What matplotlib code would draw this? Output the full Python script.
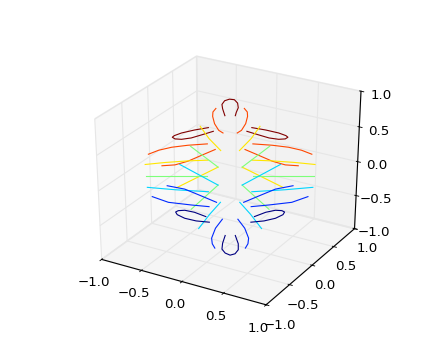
import numpy as np
import matplotlib
matplotlib.use("Agg")
from matplotlib import pyplot as plt
from mpl_toolkits.mplot3d import Axes3D  # noqa: F401

# contour curves, coordinates in the plane facing the camera (through the origin)
# curves that exist once, on the centre line
top_loop_u = [-0.055, -0.079, -0.086, -0.058, -0.007, 0.045, 0.079, 0.086, 0.065, 0.055]
top_loop_v = [0.754, 0.840, 0.894, 0.940, 0.960, 0.953, 0.911, 0.853, 0.795, 0.754]
bottom_loop_u = [-0.052, -0.079, -0.086, -0.052, 0.0, 0.052, 0.086, 0.086, 0.055]
bottom_loop_v = [-0.741, -0.837, -0.911, -0.960, -0.986, -0.969, -0.919, -0.844, -0.741]

# curves of the left half, the right half mirrors them
red_wing_u = [-0.229, -0.376, -0.512, -0.588, -0.609, -0.581, -0.512, -0.410, -0.290, -0.177]
red_wing_v = [0.605, 0.575, 0.538, 0.505, 0.485, 0.464, 0.459, 0.476, 0.518, 0.559]
orange_arc_u = [-0.150, -0.181, -0.184, -0.164, -0.120, -0.075]
orange_arc_v = [0.844, 0.800, 0.745, 0.654, 0.571, 0.538]
orange_long_u = [-0.861, -0.752, -0.616, -0.444, -0.240]
orange_long_v = [0.273, 0.323, 0.360, 0.385, 0.402]
orange_low_u = [-0.718, -0.581, -0.444, -0.290, -0.157]
orange_low_v = [0.129, 0.140, 0.186, 0.265, 0.332]
yellow_diag_u = [-0.315, -0.222, -0.099]
yellow_diag_v = [0.621, 0.468, 0.319]
yellow_long_u = [-0.895, -0.684, -0.444, -0.233]
yellow_long_v = [0.145, 0.170, 0.190, 0.199]
yellow_chev_u = [-0.127, -0.564]
yellow_chev_v = [0.112, -0.145]
green_up_u = [-0.417, -0.127]
green_up_v = [0.372, 0.112]
green_down_u = [-0.127, -0.410]
green_down_v = [-0.112, -0.414]
green_flat_u = [-0.888, -0.240]
green_flat_v = [0.0, 0.0]
cyan_chev_u = [-0.530, -0.127]
cyan_chev_v = [0.145, -0.112]
cyan_long_u = [-0.872, -0.581, -0.229]
cyan_long_v = [-0.140, -0.170, -0.195]
cyan_diag_u = [-0.102, -0.215, -0.331]
cyan_diag_v = [-0.327, -0.476, -0.654]
blue_high_u = [-0.663, -0.478, -0.308, -0.143]
blue_high_v = [-0.120, -0.162, -0.245, -0.327]
blue_long_u = [-0.820, -0.650, -0.410, -0.222]
blue_long_v = [-0.256, -0.327, -0.360, -0.381]
blue_arc_u = [-0.082, -0.154, -0.195, -0.188, -0.161]
blue_arc_v = [-0.538, -0.650, -0.774, -0.844, -0.898]
navy_wing_u = [-0.256, -0.376, -0.478, -0.546, -0.574, -0.557, -0.478, -0.358, -0.219]
navy_wing_v = [-0.505, -0.451, -0.426, -0.431, -0.448, -0.481, -0.526, -0.559, -0.575]

ticks = [-1.0, -0.5, 0.0, 0.5, 1.0]
AZIM = -60
ELEV = 30
GREY = (0.9, 0.9, 0.9, 1.0)


def to_xyz(u, v):
    # camera plane -> data coordinates
    az, el = np.radians(AZIM), np.radians(ELEV)
    u, v = np.asarray(u), np.asarray(v)
    x = -u * np.sin(az) - v * np.sin(el) * np.cos(az)
    y = u * np.cos(az) - v * np.sin(el) * np.sin(az)
    z = v * np.cos(el)
    return x, y, z


plt.rcParams["grid.color"] = "#e6e6e6"
plt.rcParams["grid.linewidth"] = 1.0

fig = plt.figure(figsize=(5.5, 4.5), dpi=80)
ax = fig.add_subplot(111, projection="3d")
ax.set_position([0.125, 0.1, 0.775, 0.8])
ax.apply_aspect = lambda position=None: None  # old mplot3d: box fills the axes
ax.set_box_aspect((1, 1, 1), zoom=0.936)
ax.view_init(elev=ELEV, azim=AZIM)

cmap = plt.get_cmap("jet")
level_colors = [cmap(i / 6) for i in range(7)]

single = [(6, top_loop_u, top_loop_v), (0, bottom_loop_u, bottom_loop_v)]
mirrored = [
    (6, red_wing_u, red_wing_v),
    (5, orange_arc_u, orange_arc_v),
    (5, orange_long_u, orange_long_v),
    (5, orange_low_u, orange_low_v),
    (4, yellow_diag_u, yellow_diag_v),
    (4, yellow_long_u, yellow_long_v),
    (4, yellow_chev_u, yellow_chev_v),
    (3, green_up_u, green_up_v),
    (3, green_down_u, green_down_v),
    (3, green_flat_u, green_flat_v),
    (2, cyan_chev_u, cyan_chev_v),
    (2, cyan_long_u, cyan_long_v),
    (2, cyan_diag_u, cyan_diag_v),
    (1, blue_high_u, blue_high_v),
    (1, blue_long_u, blue_long_v),
    (1, blue_arc_u, blue_arc_v),
    (0, navy_wing_u, navy_wing_v),
]

for level, u, v in single:
    ax.plot(*to_xyz(u, v), color=level_colors[level], linewidth=1.0)
for level, u, v in mirrored:
    ax.plot(*to_xyz(u, v), color=level_colors[level], linewidth=1.0)
    ax.plot(*to_xyz(-np.asarray(u), v), color=level_colors[level], linewidth=1.0)

ax.set_xlim(-1, 1, view_margin=0)
ax.set_ylim(-1, 1, view_margin=0)
ax.set_zlim(-1, 1, view_margin=0)
ax.set_xticks(ticks)
ax.set_yticks(ticks)
ax.set_zticks(ticks)
ax.tick_params(labelsize=12)
for axis in (ax.xaxis, ax.yaxis, ax.zaxis):
    axis.pane.set_edgecolor(GREY)
    axis.pane.set_linewidth(1.5)
    axis.line.set_linewidth(1.0)

fig.savefig("out.png", dpi=80)
